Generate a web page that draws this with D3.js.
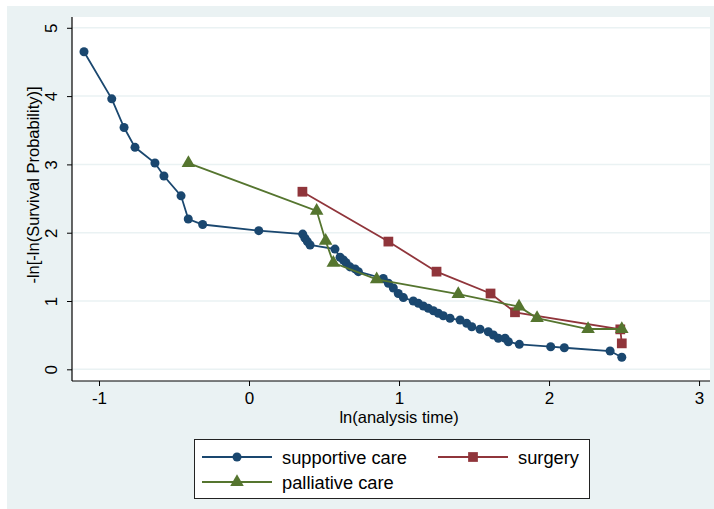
<!DOCTYPE html>
<html>
<head>
<meta charset="utf-8">
<script src="https://cdn.jsdelivr.net/npm/d3@7"></script>
<style>
  html, body { margin: 0; padding: 0; background: #ffffff; }
  svg { display: block; font-family: "Liberation Sans", Arial, sans-serif; }
</style>
</head>
<body>
<svg id="chart" width="714" height="509"></svg>
<script>
// ---- data ----
const supportiveX = [-1.100, -0.915, -0.833, -0.760, -0.627, -0.567, -0.453, -0.405, -0.309, 0.065,
  0.358, 0.373, 0.389, 0.407, 0.573, 0.607, 0.629, 0.647, 0.673, 0.707, 0.729,
  0.895, 0.929, 0.962, 0.995, 1.029, 1.095, 1.129, 1.162, 1.195, 1.229, 1.262, 1.295, 1.340,
  1.407, 1.451, 1.485, 1.540, 1.595, 1.629, 1.662, 1.707, 1.729, 1.802, 2.011, 2.102, 2.407, 2.485];
const supportiveY = [4.65, 3.96, 3.54, 3.25, 3.02, 2.83, 2.54, 2.20, 2.12, 2.03,
  1.98, 1.92, 1.87, 1.82, 1.76, 1.64, 1.60, 1.56, 1.50, 1.47, 1.43,
  1.33, 1.26, 1.19, 1.11, 1.05, 1.00, 0.966, 0.927, 0.893, 0.858, 0.820, 0.785, 0.747,
  0.722, 0.673, 0.624, 0.586, 0.551, 0.502, 0.454, 0.454, 0.404, 0.366, 0.331, 0.316, 0.268, 0.176];
const surgeryX = [0.356, 0.929, 1.250, 1.610, 1.773, 2.475, 2.485];
const surgeryY = [2.60, 1.87, 1.43, 1.11, 0.835, 0.585, 0.38];
const palliativeX = [-0.404, 0.451, 0.511, 0.562, 0.851, 1.395, 1.800, 1.920, 2.260, 2.485];
const palliativeY = [3.02, 2.32, 1.88, 1.56, 1.317, 1.10, 0.917, 0.75, 0.59, 0.59];
const xTicks = [-1, 0, 1, 2, 3];
const yTicks = [0, 1, 2, 3, 4, 5];
const seriesNames = ["supportive care", "surgery", "palliative care"];
const xTitle = "ln(analysis time)";
const yTitle = "-ln[-ln(Survival Probability)]";

// ---- styles ----
const colors = { "supportive care": "#1a476f", "surgery": "#90353b", "palliative care": "#55752f" };
const shapes = { "supportive care": d3.symbolCircle, "surgery": d3.symbolSquare, "palliative care": d3.symbolTriangle };
const symSize = { "supportive care": 64, "surgery": 95, "palliative care": 80 };

const series = [
  { name: seriesNames[0], pts: supportiveX.map((x, i) => [x, supportiveY[i]]) },
  { name: seriesNames[1], pts: surgeryX.map((x, i) => [x, surgeryY[i]]) },
  { name: seriesNames[2], pts: palliativeX.map((x, i) => [x, palliativeY[i]]) }
];

const svg = d3.select("#chart");
const W = 714, H = 509;

// graph region background
svg.append("rect").attr("x", 7).attr("y", 6).attr("width", W - 7).attr("height", H - 6)
  .attr("fill", "#eaf2f3");

const plot = { left: 72, right: 710, top: 17, bottom: 381 };
const x = d3.scaleLinear().domain([-1.18, 3.073]).range([plot.left, plot.right]);
const y = d3.scaleLinear().domain([-0.171, 5.158]).range([plot.bottom, plot.top]);

svg.append("rect").attr("x", plot.left).attr("y", plot.top)
  .attr("width", plot.right - plot.left).attr("height", plot.bottom - plot.top)
  .attr("fill", "#ffffff");

// gridlines
svg.append("g").selectAll("line").data(yTicks).join("line")
  .attr("x1", plot.left).attr("x2", plot.right)
  .attr("y1", d => y(d)).attr("y2", d => y(d))
  .attr("stroke", "#eaf2f3").attr("stroke-width", 1.5);

// axes
const fs = 17;
const fmt = d => String(d);
const xAxis = svg.append("g").attr("transform", `translate(0,${plot.bottom})`)
  .call(d3.axisBottom(x).tickValues(xTicks).tickSize(5).tickPadding(6).tickFormat(fmt));
xAxis.select(".domain").attr("d", `M${plot.left},0H${plot.right}`).attr("stroke", "#000").attr("stroke-width", 1.2);
xAxis.selectAll(".tick line").attr("stroke", "#000");
xAxis.selectAll("text").attr("font-size", fs).attr("fill", "#000").attr("font-family", "Liberation Sans, Arial, sans-serif");

const yAxis = svg.append("g").attr("transform", `translate(${plot.left},0)`)
  .call(d3.axisLeft(y).tickValues(yTicks).tickSize(5).tickFormat(fmt));
yAxis.select(".domain").attr("d", `M0,${plot.top}V${plot.bottom}`).attr("stroke", "#000").attr("stroke-width", 1.2);
yAxis.selectAll(".tick line").attr("stroke", "#000");
yAxis.selectAll("text")
  .attr("font-size", fs).attr("fill", "#000").attr("font-family", "Liberation Sans, Arial, sans-serif")
  .attr("x", null).attr("dy", null)
  .attr("text-anchor", "middle")
  .attr("transform", "translate(-21,0) rotate(-90)")
  .attr("dominant-baseline", "central");

// axis titles
svg.append("text").attr("x", x(1)).attr("y", 423).attr("text-anchor", "middle")
  .attr("font-size", 16.5).attr("fill", "#000").text(xTitle);
svg.append("text").attr("transform", `translate(33,${185}) rotate(-90)`)
  .attr("text-anchor", "middle").attr("dominant-baseline", "central")
  .attr("font-size", 16.5).attr("fill", "#000").text(yTitle);

// series
const line = d3.line().x(d => x(d[0])).y(d => y(d[1]));
series.forEach(s => {
  const g = svg.append("g");
  g.append("path").attr("d", line(s.pts)).attr("fill", "none")
    .attr("stroke", colors[s.name]).attr("stroke-width", 1.8);
  g.selectAll("path.m").data(s.pts).join("path").attr("class", "m")
    .attr("transform", d => `translate(${x(d[0])},${y(d[1])})`)
    .attr("d", d3.symbol().type(shapes[s.name]).size(symSize[s.name]))
    .attr("fill", colors[s.name]);
});

// legend
const leg = svg.append("g");
leg.append("rect").attr("x", 194.5).attr("y", 439.5).attr("width", 395).attr("height", 59)
  .attr("fill", "#ffffff").attr("stroke", "#222").attr("stroke-width", 1);
const legItems = [
  { name: seriesNames[0], lx: 202, ty: 457 },
  { name: seriesNames[1], lx: 438, ty: 457 },
  { name: seriesNames[2], lx: 202, ty: 482 }
];
legItems.forEach(it => {
  leg.append("line").attr("x1", it.lx).attr("x2", it.lx + 70).attr("y1", it.ty).attr("y2", it.ty)
    .attr("stroke", colors[it.name]).attr("stroke-width", 1.8);
  leg.append("path").attr("transform", `translate(${it.lx + 35},${it.ty})`)
    .attr("d", d3.symbol().type(shapes[it.name]).size(symSize[it.name]))
    .attr("fill", colors[it.name]);
  leg.append("text").attr("x", it.lx + 80).attr("y", it.ty).attr("dominant-baseline", "central")
    .attr("font-size", 18.3).attr("fill", "#000").text(it.name);
});
</script>
</body>
</html>
